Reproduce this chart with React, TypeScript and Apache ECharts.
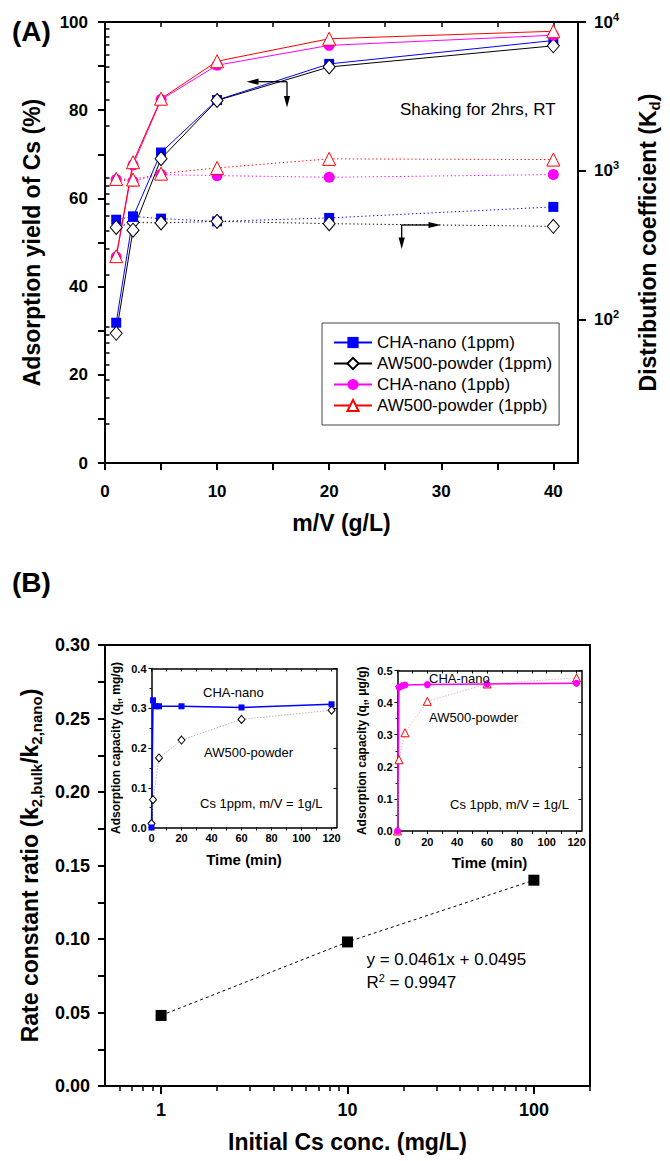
import React, { useEffect, useRef } from 'react';
import * as echarts from 'echarts';

const FONT = "'Liberation Sans', Arial, Helvetica, sans-serif";

// ---------- Panel A data ----------
const mvRatio = [1, 2.5, 5, 10, 20, 40];
const yieldChaPpm = [31.8, 55.8, 70.4, 82.3, 90.5, 95.8];
const yieldAwPpm = [29.4, 52.8, 69.0, 82.2, 89.8, 94.6];
const yieldChaPpb = [46.7, 67.6, 82.4, 90.2, 94.7, 97.0];
const yieldAwPpb = [46.9, 68.2, 82.6, 91.1, 96.2, 97.9];
const kdChaPpm = [471, 496, 479, 459, 484, 574];
const kdAwPpm = [418, 452, 448, 459, 443, 425];
const kdChaPpb = [876, 852, 946, 931, 907, 946];
const kdAwPpb = [885, 876, 960, 1049, 1206, 1193];
const mvTicks = [0, 10, 20, 30, 40];
const kdTickExp = [2, 3, 4];

// ---------- Panel B data ----------
const initConc = [1, 10, 100];
const rateRatio = [0.048, 0.098, 0.14];
const concTicks = [1, 10, 100];

// ---------- Insets data ----------
const tChaPpm = [0, 1, 3, 5, 20, 60, 120];
const qChaPpm = [0, 0.32, 0.305, 0.305, 0.305, 0.302, 0.31];
const tAwPpm = [0, 1, 5, 20, 60, 120];
const qAwPpm = [0.01, 0.07, 0.175, 0.22, 0.272, 0.295];
const tChaPpb = [0, 1, 3, 5, 20, 60, 120];
const qChaPpb = [0, 0.448, 0.452, 0.455, 0.456, 0.458, 0.46];
const tAwPpb = [0, 1, 5, 20, 60, 120];
const qAwPpb = [0, 0.222, 0.306, 0.404, 0.458, 0.477];
const timeTicks = [0, 20, 40, 60, 80, 100, 120];

const KD_MIN = 1.04;
const KD_MAX = 4;
const X_A_MAX = 42.2;
const T_MAX = 123.3;

function buildOption() {
  const black = '#000';
  const txt = (size: number, weight: any = 'bold') => ({
    fontSize: size,
    fontWeight: weight,
    fontFamily: FONT,
    color: black,
  });
  const line = (w: number) => ({ show: true, onZero: false, lineStyle: { color: black, width: w } });
  const noSplit = { show: false };

  const kdMinor: number[] = [];
  for (const n of [1, 2, 3]) {
    for (let k = 2; k <= 9; k++) {
      const v = Math.log10(k * Math.pow(10, n));
      if (v >= KD_MIN && v <= KD_MAX) kdMinor.push(v);
    }
  }
  const concMinor: number[] = [];
  for (const base of [0.1, 1, 10, 100]) {
    for (let k = 2; k <= 9; k++) {
      const c = k * base;
      if (c > 0.5 && c <= 200) concMinor.push(Math.log10(c));
    }
  }
  const mvMinor = [0, 5, 10, 15, 20, 25, 30, 35, 40];
  const tMinor = [0, 10, 20, 30, 40, 50, 60, 70, 80, 90, 100, 110, 120];

  const nameRich = (main: number, sub: number) => ({
    a: { fontSize: main, fontWeight: 'bold', fontFamily: FONT, color: black, lineHeight: main + 6 },
    s: { fontSize: sub, fontWeight: 'bold', fontFamily: FONT, color: black, verticalAlign: 'bottom', lineHeight: sub },
  });

  const grids = [
    { left: 105, top: 22, width: 485, height: 441 },
    { left: 105, top: 645, width: 485, height: 441 },
    { left: 151.5, top: 668.5, width: 185, height: 159 },
    { left: 397.5, top: 670.5, width: 184, height: 160.5 },
  ];

  const xAxis: any[] = [
    // 0: A bottom
    {
      gridIndex: 0, type: 'value', min: 0, max: X_A_MAX, position: 'bottom',
      axisLine: line(2),
      axisTick: { show: true, length: 7, lineStyle: { color: black, width: 2 }, customValues: mvMinor },
      axisLabel: { show: true, customValues: mvTicks, margin: 20, ...txt(17) },
      splitLine: noSplit,
      name: 'm/V (g/L)', nameLocation: 'middle', nameGap: 48, nameTextStyle: txt(23),
    },
    // 1: A top
    {
      gridIndex: 0, type: 'value', min: 0, max: X_A_MAX, position: 'top',
      axisLine: line(2),
      axisTick: { show: true, inside: true, length: 5, lineStyle: { color: black, width: 1.5 }, customValues: mvMinor },
      axisLabel: { show: false }, splitLine: noSplit,
    },
    // 2: B bottom major
    {
      gridIndex: 1, type: 'value', min: Math.log10(0.5), max: Math.log10(200), position: 'bottom',
      axisLine: line(2),
      axisTick: { show: true, length: 8, lineStyle: { color: black, width: 2 }, customValues: concTicks.map((c) => Math.log10(c)) },
      axisLabel: {
        show: true, customValues: concTicks.map((c) => Math.log10(c)), margin: 15, ...txt(18),
        formatter: (v: number) => String(Math.round(Math.pow(10, v))),
      },
      splitLine: noSplit,
      name: 'Initial Cs conc. (mg/L)', nameLocation: 'middle', nameGap: 44, nameTextStyle: txt(23),
    },
    // 3: B bottom minor
    {
      gridIndex: 1, type: 'value', min: Math.log10(0.5), max: Math.log10(200), position: 'bottom',
      axisLine: { show: false },
      axisTick: { show: true, length: 5, lineStyle: { color: black, width: 1.5 }, customValues: concMinor },
      axisLabel: { show: false }, splitLine: noSplit,
    },
    // 4: B top
    {
      gridIndex: 1, type: 'value', min: Math.log10(0.5), max: Math.log10(200), position: 'top',
      axisLine: line(2), axisTick: { show: false }, axisLabel: { show: false }, splitLine: noSplit,
    },
    // 5: inset L bottom
    {
      gridIndex: 2, type: 'value', min: 0, max: T_MAX, position: 'bottom',
      axisLine: line(1.5),
      axisTick: { show: true, length: 3, lineStyle: { color: black, width: 1 }, customValues: tMinor },
      axisLabel: { show: true, customValues: timeTicks, margin: 5, ...txt(11) },
      splitLine: noSplit,
      name: 'Time (min)', nameLocation: 'middle', nameGap: 24, nameTextStyle: txt(15),
    },
    // 6: inset L top
    {
      gridIndex: 2, type: 'value', min: 0, max: T_MAX, position: 'top',
      axisLine: line(1.5),
      axisTick: { show: true, inside: true, length: 3, lineStyle: { color: black, width: 1 }, customValues: tMinor },
      axisLabel: { show: false }, splitLine: noSplit,
    },
    // 7: inset R bottom
    {
      gridIndex: 3, type: 'value', min: 0, max: T_MAX, position: 'bottom',
      axisLine: line(1.5),
      axisTick: { show: true, length: 3, lineStyle: { color: black, width: 1 }, customValues: tMinor },
      axisLabel: { show: true, customValues: timeTicks, margin: 5, ...txt(11) },
      splitLine: noSplit,
      name: 'Time (min)', nameLocation: 'middle', nameGap: 24, nameTextStyle: txt(15),
    },
    // 8: inset R top
    {
      gridIndex: 3, type: 'value', min: 0, max: T_MAX, position: 'top',
      axisLine: line(1.5),
      axisTick: { show: true, inside: true, length: 3, lineStyle: { color: black, width: 1 }, customValues: tMinor },
      axisLabel: { show: false }, splitLine: noSplit,
    },
  ];

  const yAxis: any[] = [
    // 0: A left
    {
      gridIndex: 0, type: 'value', min: 0, max: 100, interval: 20, position: 'left',
      axisLine: line(2),
      axisTick: { show: true, length: 7, lineStyle: { color: black, width: 2 } },
      minorTick: { show: true, splitNumber: 2, length: 7, lineStyle: { color: black, width: 2 } },
      axisLabel: { show: true, margin: 17, ...txt(17) },
      splitLine: noSplit,
      name: 'Adsorption yield of Cs (%)', nameLocation: 'middle', nameRotate: 90, nameGap: 62, nameTextStyle: txt(23),
    },
    // 1: A right (log Kd) major
    {
      gridIndex: 0, type: 'value', min: KD_MIN, max: KD_MAX, position: 'right',
      axisLine: line(2),
      axisTick: { show: true, length: 8, lineStyle: { color: black, width: 2 }, customValues: kdTickExp },
      axisLabel: {
        show: true, customValues: kdTickExp, margin: 16, ...txt(17),
        formatter: (v: number) => `{b|10}{p|${Math.round(v)}}`,
        rich: {
          b: { fontSize: 17, fontWeight: 'bold', fontFamily: FONT, color: black, lineHeight: 22 },
          p: { fontSize: 11, fontWeight: 'bold', fontFamily: FONT, color: black, verticalAlign: 'top', lineHeight: 12 },
        },
      },
      splitLine: noSplit,
      name: '{a|Distribution coefficient (K}{s|d}{a|)}', nameLocation: 'middle', nameRotate: 90, nameGap: 55,
      nameTextStyle: { ...txt(23), rich: nameRich(23, 15) },
    },
    // 2: A right minor
    {
      gridIndex: 0, type: 'value', min: KD_MIN, max: KD_MAX, position: 'right',
      axisLine: { show: false },
      axisTick: { show: true, length: 4.5, lineStyle: { color: black, width: 1.5 }, customValues: kdMinor },
      axisLabel: { show: false }, splitLine: noSplit,
    },
    // 3: B left
    {
      gridIndex: 1, type: 'value', min: 0, max: 0.3, interval: 0.05, position: 'left',
      axisLine: line(2),
      axisTick: { show: true, length: 7, lineStyle: { color: black, width: 2 } },
      minorTick: { show: true, splitNumber: 2, length: 7, lineStyle: { color: black, width: 2 } },
      axisLabel: { show: true, margin: 15, ...txt(18), formatter: (v: number) => v.toFixed(2) },
      splitLine: noSplit,
      name: '{a|Rate constant ratio (k}{s|2,bulk}{a|/k}{s|2,nano}{a|)}', nameLocation: 'middle', nameRotate: 90, nameGap: 60,
      nameTextStyle: { ...txt(23), rich: nameRich(23, 15) },
    },
    // 4: B right
    {
      gridIndex: 1, type: 'value', min: 0, max: 0.3, position: 'right',
      axisLine: line(2), axisTick: { show: false }, axisLabel: { show: false }, splitLine: noSplit,
    },
    // 5: inset L left
    {
      gridIndex: 2, type: 'value', min: 0, max: 0.4, interval: 0.1, position: 'left',
      axisLine: line(1.5),
      axisTick: { show: true, length: 3, lineStyle: { color: black, width: 1 } },
      minorTick: { show: true, splitNumber: 2, length: 2, lineStyle: { color: black, width: 1 } },
      axisLabel: { show: true, margin: 5, ...txt(11), formatter: (v: number) => v.toFixed(1) },
      splitLine: noSplit,
      name: '{a|Adsorption capacity (q}{s|t}{a|, mg/g)}', nameLocation: 'middle', nameRotate: 90, nameGap: 27,
      nameTextStyle: { ...txt(12), rich: nameRich(12, 8) },
    },
    // 6: inset L right
    {
      gridIndex: 2, type: 'value', min: 0, max: 0.4, interval: 0.1, position: 'right',
      axisLine: line(1.5),
      axisTick: { show: true, inside: true, length: 3, lineStyle: { color: black, width: 1 } },
      axisLabel: { show: false }, splitLine: noSplit,
    },
    // 7: inset R left
    {
      gridIndex: 3, type: 'value', min: 0, max: 0.5, interval: 0.1, position: 'left',
      axisLine: line(1.5),
      axisTick: { show: true, length: 3, lineStyle: { color: black, width: 1 } },
      minorTick: { show: true, splitNumber: 2, length: 2, lineStyle: { color: black, width: 1 } },
      axisLabel: { show: true, margin: 5, ...txt(11), formatter: (v: number) => v.toFixed(1) },
      splitLine: noSplit,
      name: '{a|Adsorption capacity (q}{s|t}{a|, \u03bcg/g)}', nameLocation: 'middle', nameRotate: 90, nameGap: 27,
      nameTextStyle: { ...txt(12), rich: nameRich(12, 8) },
    },
    // 8: inset R right
    {
      gridIndex: 3, type: 'value', min: 0, max: 0.5, interval: 0.1, position: 'right',
      axisLine: line(1.5),
      axisTick: { show: true, inside: true, length: 3, lineStyle: { color: black, width: 1 } },
      axisLabel: { show: false }, splitLine: noSplit,
    },
  ];

  const pairs = (xs: number[], ys: number[], fy: (v: number) => number = (v) => v) =>
    xs.map((x, i) => [x, fy(ys[i])]);
  const lg = (v: number) => Math.log10(v);

  const BLUE = '#0000FF';
  const MAG = '#FF00FF';
  const RED = '#FF0000';
  const dotted = [1.3, 2.6];

  const styleSq = { symbol: 'rect', symbolSize: 10, itemStyle: { color: BLUE } };
  const styleDia = { symbol: 'diamond', symbolSize: [12, 14], itemStyle: { color: '#fff', borderColor: black, borderWidth: 1 } };
  const styleCir = { symbol: 'circle', symbolSize: 11, itemStyle: { color: MAG } };
  const styleTri = { symbol: 'triangle', symbolSize: 13, itemStyle: { color: '#fff', borderColor: RED, borderWidth: 1 } };

  const series: any[] = [
    // Panel A: Kd dotted (right axis)
    { type: 'line', name: 'Kd CHA-nano (1ppm)', xAxisIndex: 0, yAxisIndex: 1, data: pairs(mvRatio, kdChaPpm, lg), ...styleSq, lineStyle: { color: BLUE, width: 1, type: dotted } },
    { type: 'line', name: 'Kd AW500-powder (1ppm)', xAxisIndex: 0, yAxisIndex: 1, data: pairs(mvRatio, kdAwPpm, lg), ...styleDia, lineStyle: { color: black, width: 1, type: dotted } },
    { type: 'line', name: 'Kd CHA-nano (1ppb)', xAxisIndex: 0, yAxisIndex: 1, data: pairs(mvRatio, kdChaPpb, lg), ...styleCir, lineStyle: { color: MAG, width: 1, type: dotted } },
    { type: 'line', name: 'Kd AW500-powder (1ppb)', xAxisIndex: 0, yAxisIndex: 1, data: pairs(mvRatio, kdAwPpb, lg), ...styleTri, lineStyle: { color: RED, width: 1, type: dotted } },
    // Panel A: yield solid (left axis)
    { type: 'line', name: 'CHA-nano (1ppm)', xAxisIndex: 0, yAxisIndex: 0, data: pairs(mvRatio, yieldChaPpm), ...styleSq, lineStyle: { color: BLUE, width: 1 } },
    { type: 'line', name: 'AW500-powder (1ppm)', xAxisIndex: 0, yAxisIndex: 0, data: pairs(mvRatio, yieldAwPpm), ...styleDia, lineStyle: { color: black, width: 1 } },
    { type: 'line', name: 'CHA-nano (1ppb)', xAxisIndex: 0, yAxisIndex: 0, data: pairs(mvRatio, yieldChaPpb), ...styleCir, lineStyle: { color: MAG, width: 1 } },
    { type: 'line', name: 'AW500-powder (1ppb)', xAxisIndex: 0, yAxisIndex: 0, data: pairs(mvRatio, yieldAwPpb), ...styleTri, lineStyle: { color: RED, width: 1 } },
    // Panel B
    {
      type: 'line', name: 'rate ratio', xAxisIndex: 2, yAxisIndex: 3,
      data: pairs(initConc.map(lg), rateRatio), symbol: 'rect', symbolSize: 11,
      itemStyle: { color: black }, lineStyle: { color: black, width: 1, type: [3, 3] },
    },
    // Inset L
    {
      type: 'line', name: 'inset AW ppm', xAxisIndex: 5, yAxisIndex: 5, data: pairs(tAwPpm, qAwPpm),
      symbol: 'diamond', symbolSize: [7, 8], itemStyle: { color: '#fff', borderColor: black, borderWidth: 1 },
      lineStyle: { color: '#b8b8b8', width: 1, type: [1.5, 1.5] },
    },
    {
      type: 'line', name: 'inset CHA ppm', xAxisIndex: 5, yAxisIndex: 5, data: pairs(tChaPpm, qChaPpm),
      symbol: 'rect', symbolSize: 6, itemStyle: { color: BLUE }, lineStyle: { color: BLUE, width: 1.5 },
    },
    // Inset R
    {
      type: 'line', name: 'inset AW ppb', xAxisIndex: 7, yAxisIndex: 7, data: pairs(tAwPpb, qAwPpb),
      symbol: 'triangle', symbolSize: 8, itemStyle: { color: '#fff', borderColor: RED, borderWidth: 1 },
      lineStyle: { color: '#ffb0b0', width: 1, type: [1.5, 1.5] },
    },
    {
      type: 'line', name: 'inset CHA ppb', xAxisIndex: 7, yAxisIndex: 7, data: pairs(tChaPpb, qChaPpb),
      symbol: 'circle', symbolSize: 7, itemStyle: { color: MAG }, lineStyle: { color: MAG, width: 1.5 },
    },
  ];

  const t = (x: number, y: number, text: string, size: number, weight: any = 'normal', extra: any = {}) => ({
    type: 'text', x, y, z: 100,
    style: {
      text, fontSize: size, fontWeight: weight, fontFamily: FONT, fill: black,
      align: 'left', verticalAlign: 'middle', textAlign: 'left', textVerticalAlign: 'middle', ...extra,
    },
  });
  const arrowStyle = { stroke: black, lineWidth: 1.3 };

  const graphic: any[] = [
    t(12, 31, '(A)', 28, 'bold'),
    t(12, 582, '(B)', 28, 'bold'),
    t(400, 109, 'Shaking for 2hrs, RT', 17),
    // arrow pointing to left axis
    { type: 'polyline', z: 100, shape: { points: [[287, 81.7], [255, 81.7]] }, style: arrowStyle },
    { type: 'polygon', z: 100, shape: { points: [[246.5, 81.7], [258.5, 78.6], [258.5, 84.8]] }, style: { fill: black } },
    { type: 'polyline', z: 100, shape: { points: [[287, 81.7], [287, 99]] }, style: arrowStyle },
    { type: 'polygon', z: 100, shape: { points: [[287, 107.5], [283.9, 96], [290.1, 96]] }, style: { fill: black } },
    // arrow pointing to right axis
    { type: 'polyline', z: 100, shape: { points: [[401.7, 225], [432, 225]] }, style: arrowStyle },
    { type: 'polygon', z: 100, shape: { points: [[441, 225], [428.5, 221.9], [428.5, 228.1]] }, style: { fill: black } },
    { type: 'polyline', z: 100, shape: { points: [[401.7, 225], [401.7, 240]] }, style: arrowStyle },
    { type: 'polygon', z: 100, shape: { points: [[401.7, 249], [398.6, 237.5], [404.8, 237.5]] }, style: { fill: black } },
    // insets annotations
    t(203, 692.5, 'CHA-nano', 13),
    t(204, 752.5, 'AW500-powder', 13),
    t(200, 803.5, 'Cs 1ppm, m/V = 1g/L', 13),
    t(429, 678.5, 'CHA-nano', 13),
    t(429, 717.5, 'AW500-powder', 13),
    t(450, 804.5, 'Cs 1ppb, m/V = 1g/L', 13),
    // fit annotation
    t(366.5, 959.5, 'y = 0.0461x + 0.0495', 17),
    {
      type: 'text', x: 366.5, y: 982, z: 100,
      style: {
        text: '{m|R}{p|2}{m| = 0.9947}', fontSize: 17, fontFamily: FONT, fill: black,
        verticalAlign: 'middle', textVerticalAlign: 'middle',
        rich: {
          m: { fontSize: 17, fontFamily: FONT, fill: black, color: black, lineHeight: 20 },
          p: { fontSize: 11, fontFamily: FONT, fill: black, color: black, verticalAlign: 'top', lineHeight: 11 },
        },
      },
    },
  ];

  return {
    animation: false,
    backgroundColor: '#fff',
    grid: grids,
    xAxis,
    yAxis,
    series,
    graphic,
    legend: {
      data: ['CHA-nano (1ppm)', 'AW500-powder (1ppm)', 'CHA-nano (1ppb)', 'AW500-powder (1ppb)'],
      orient: 'vertical',
      left: 322,
      top: 323,
      padding: [11, 7, 11, 11],
      itemGap: 4,
      itemWidth: 38,
      itemHeight: 14,
      borderColor: '#444',
      borderWidth: 1,
      borderRadius: 0,
      backgroundColor: '#fff',
      textStyle: { fontSize: 17, fontFamily: FONT, color: black },
    },
  };
}

export default function App() {
  const ref = useRef<HTMLDivElement>(null);
  useEffect(() => {
    const chart = echarts.init(ref.current as HTMLDivElement, null, { renderer: 'svg' });
    chart.setOption(buildOption() as any);
    return () => chart.dispose();
  }, []);
  return (
    <div
      ref={ref}
      style={{ position: 'absolute', left: 0, top: 0, width: 670, height: 1161, background: '#fff' }}
    />
  );
}
